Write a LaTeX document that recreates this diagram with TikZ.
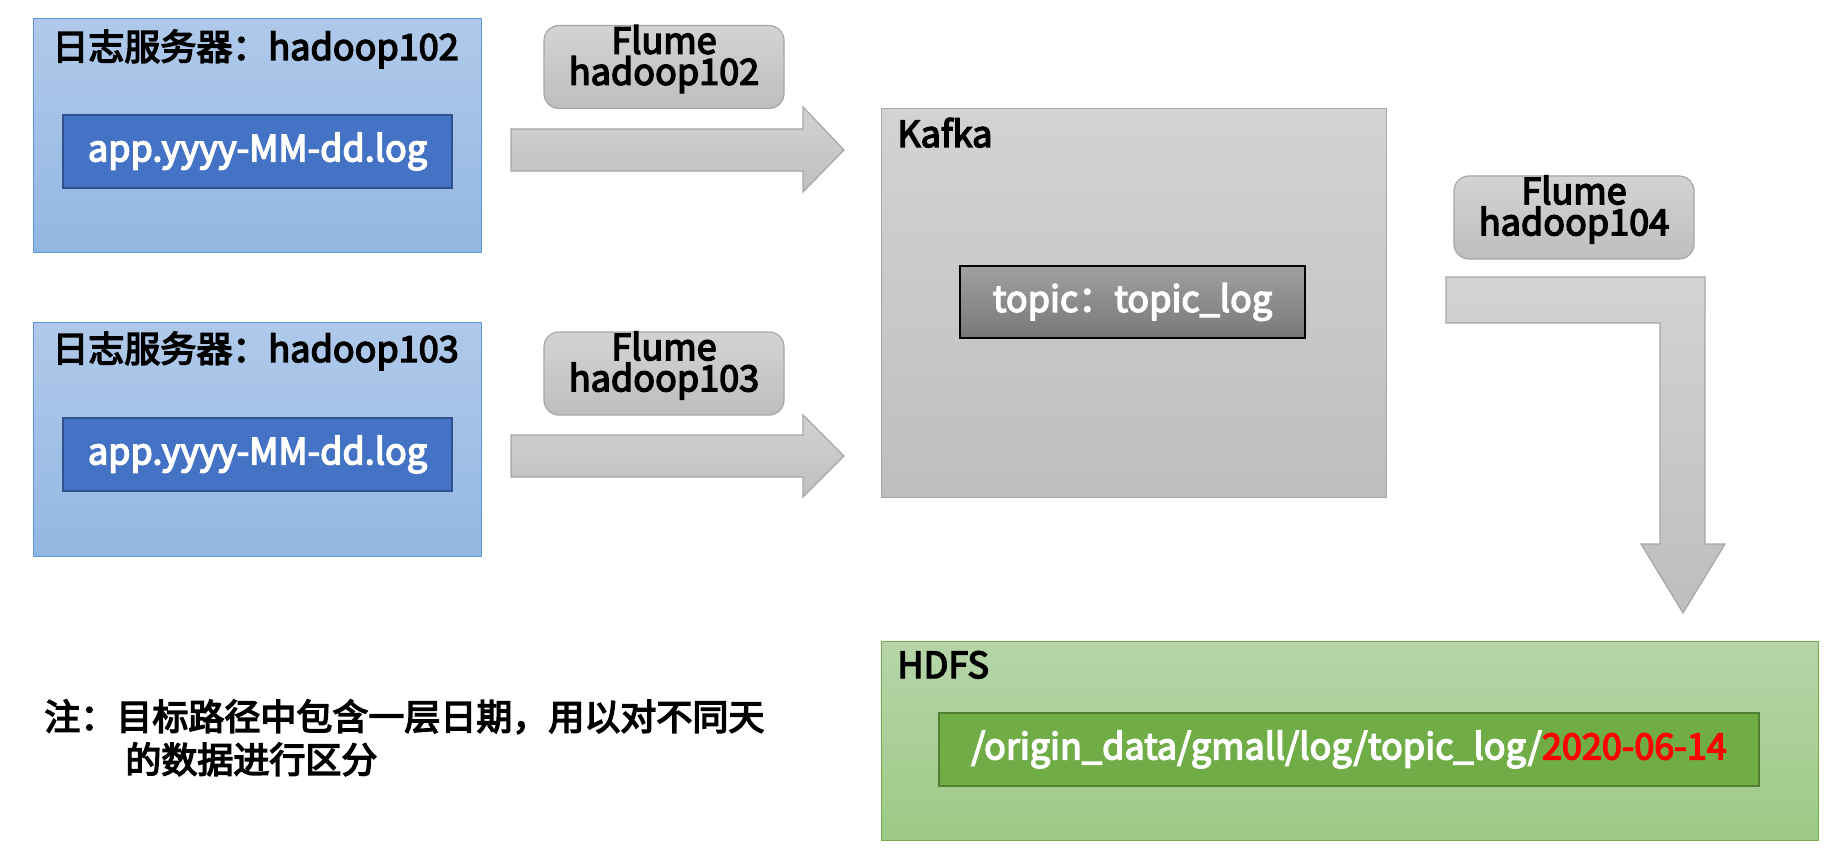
\documentclass[tikz,border=0pt]{standalone}
\usepackage{fontspec}
\setmainfont{Noto Sans CJK SC}[FakeBold=4]
\usepackage{tikz}
\definecolor{srv-light}{HTML}{B0C9EA}
\definecolor{srv-dark}{HTML}{92B7E2}
\definecolor{srv-line}{HTML}{5B9BD5}
\definecolor{log-fill}{HTML}{4472C4}
\definecolor{log-line}{HTML}{2F528F}
\definecolor{gray-light}{HTML}{D3D3D3}
\definecolor{gray-dark}{HTML}{BEBEBE}
\definecolor{gray-line}{HTML}{A6A6A6}
\definecolor{topic-light}{HTML}{A0A0A0}
\definecolor{topic-dark}{HTML}{787878}
\definecolor{hdfs-light}{HTML}{B6D5A8}
\definecolor{hdfs-dark}{HTML}{9DC986}
\definecolor{hdfs-line}{HTML}{70AD47}
\definecolor{path-fill}{HTML}{70AD47}
\definecolor{path-line}{HTML}{507E32}
\definecolor{date-red}{HTML}{FF0000}
\newcommand*\bfbig{\fontsize{18}{21.5}\selectfont}
\newcommand*\flm[1]{Flume\\hadoop#1}

\begin{document}
\begin{tikzpicture}[x=0.5pt,y=-0.5pt,
    server/.style={draw=srv-line,top color=srv-light,bottom color=srv-dark,anchor=north west,minimum width=224pt,minimum height=117pt,line width=0.6pt},
    logbox/.style={draw=log-line,fill=log-fill,text=white,font=\bfbig,minimum width=194.5pt,minimum height=36.5pt,line width=0.8pt},
    flume/.style={draw=gray-line,top color=gray-light,bottom color=gray-dark,rounded corners=7.5pt,minimum width=120pt,minimum height=41.5pt,line width=0.6pt},
    flmtext/.style={align=center,inner sep=0pt,yshift=4pt,font=\fontsize{18}{14}\selectfont},
    kafka/.style={draw=gray-line,top color=gray-light,bottom color=gray-dark,anchor=north west,minimum width=252.5pt,minimum height=194.5pt,line width=0.6pt},
    topicbox/.style={draw=black,top color=topic-light,bottom color=topic-dark,text=white,font=\bfbig,minimum width=172.5pt,minimum height=36pt,line width=0.6pt},
    hdfs/.style={draw=hdfs-line,top color=hdfs-light,bottom color=hdfs-dark,anchor=north west,minimum width=468.5pt,minimum height=99.5pt,line width=0.6pt},
    pathbox/.style={draw=path-line,fill=path-fill,text=white,font=\bfbig,minimum width=410pt,minimum height=36.5pt,line width=0.8pt},
    title/.style={anchor=base west,inner sep=0pt,font=\bfbig},
    fat/.style={draw=gray-line,top color=gray-light,bottom color=gray-dark,line width=0.6pt}]
    \useasboundingbox (0,0) rectangle (1830,855);
    % log servers
    \node[server] (srv1) at (33,18) {};
    \node[title] (srv1txt) at (52,60) {日志服务器：hadoop102};
    \node[logbox] (log1) at (257.5,151.5) {app.yyyy-MM-dd.log};
    \node[server] (srv2) at (33,322) {};
    \node[title] (srv2txt) at (52,362) {日志服务器：hadoop103};
    \node[logbox] (log2) at (257.5,454.5) {app.yyyy-MM-dd.log};
    % flume agents
    \node[flume,label={[flmtext]center:\flm{102}}] (flm1) at (664,67) {};
    \node[flume,label={[flmtext]center:\flm{103}}] (flm2) at (664,373.5) {};
    \node[flume,label={[flmtext]center:\flm{104}}] (flm3) at (1574,217.5) {};
    % kafka
    \node[kafka] (kfk) at (881,108) {};
    \node[title] (kfktxt) at (897,147) {Kafka};
    \node[topicbox] (topic) at (1132.5,302) {topic：topic\_log};
    % hdfs
    \node[hdfs] (hdfs) at (881,641) {};
    \node[title] (hdfstxt) at (897,678) {HDFS};
    \node[pathbox] (path) at (1349,749.5) {/origin\_data/gmall/log/topic\_log/\textcolor{date-red}{2020-06-14}};
    % block arrows
    \draw[fat] (511,129) -- (803,129) -- (803,107) -- (844,150) -- (803,192) -- (803,171) -- (511,171) -- cycle;
    \draw[fat] (511,435) -- (803,435) -- (803,415) -- (844,456) -- (803,497) -- (803,477) -- (511,477) -- cycle;
    \draw[fat] (1446,277) -- (1705,277) -- (1705,544) -- (1725,544) -- (1683,613) -- (1641,544) -- (1660,544) -- (1660,323) -- (1446,323) -- cycle;
    % note
    \node[title] (note1) at (44,730) {注：目标路径中包含一层日期，用以对不同天};
    \node[title] (note2) at (125,773) {的数据进行区分};
\end{tikzpicture}
\end{document}
